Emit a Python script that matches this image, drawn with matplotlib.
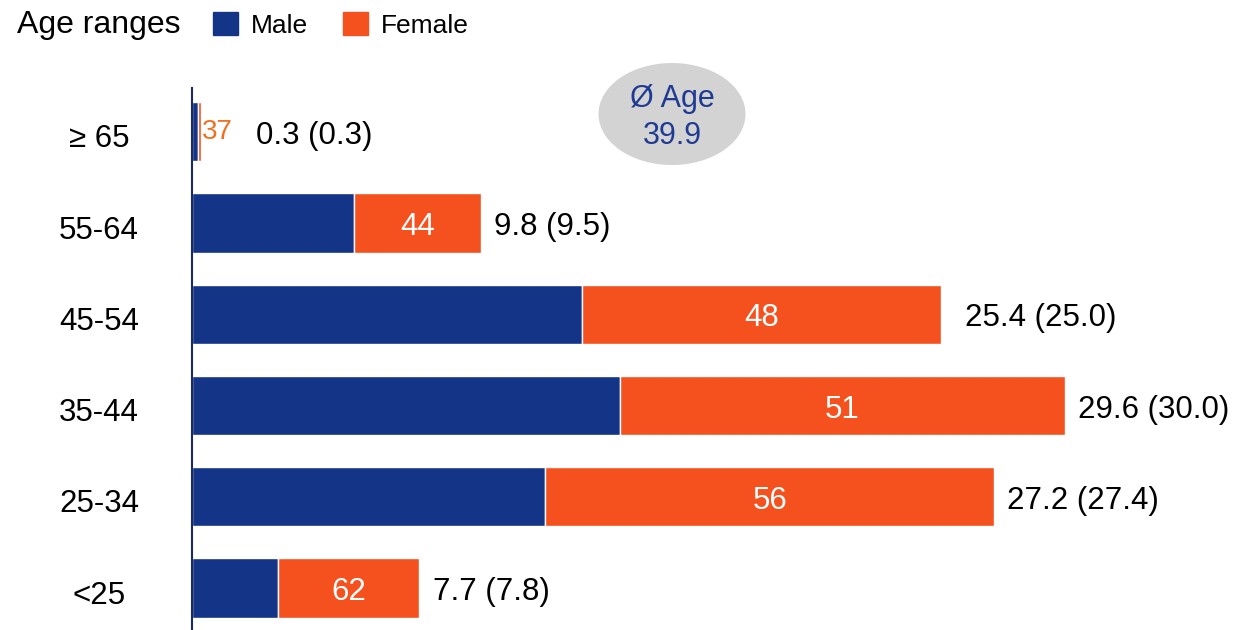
import matplotlib.pyplot as plt
import matplotlib.transforms as mtransforms
from matplotlib.patches import Ellipse

plt.rcParams['font.family'] = ['Liberation Sans', 'DejaVu Sans']

age_groups = ['<25', '25-34', '35-44', '45-54', '55-64', '\u2265 65']
total_share = [7.7, 27.2, 29.6, 25.4, 9.8, 0.3]
prev_share = [7.8, 27.4, 30.0, 25.0, 9.5, 0.3]
female_pct = [62, 56, 51, 48, 44, 37]
avg_age = 39.9

male_col = '#133487'
female_col = '#F4511E'

male_part = [t * (1 - f / 100) for t, f in zip(total_share, female_pct)]
female_part = [t * f / 100 for t, f in zip(total_share, female_pct)]
ypos = list(range(len(age_groups)))
# gap between bar end and total label (points)
label_gap = [10, 9, 9, 17, 9, 9]

fig = plt.figure(figsize=(12.36, 6.3), dpi=100)
ax = fig.add_axes([192 / 1236, 0, 1 - 192 / 1236, 542 / 630])

ax.barh(ypos, male_part, height=0.65, color=male_col, edgecolor='white', linewidth=1)
ax.barh(ypos, female_part, left=male_part, height=0.65, color=female_col,
        edgecolor='white', linewidth=1)

dy = -3  # nudge text slightly below bar centres
for y, m, f, pct, tot, prev, gap in zip(ypos, male_part, female_part, female_pct,
                                        total_share, prev_share, label_gap):
    end = m + f
    if f > 1.5:
        ax.annotate(str(pct), (m + f / 2, y), xytext=(0, dy),
                    textcoords='offset points', ha='center', va='center',
                    color='white', fontsize=22.5)
        ax.annotate(f'{tot:.1f} ({prev:.1f})', (end, y), xytext=(gap, dy),
                    textcoords='offset points', ha='left', va='center',
                    fontsize=22.5, color='black')
    else:
        # segment too thin: put the share next to it, then the totals
        ax.annotate(str(pct), (end, y), xytext=(1, 0),
                    textcoords='offset points', ha='left', va='center',
                    fontsize=20, color='#F07020')
        ax.annotate(f'{tot:.1f} ({prev:.1f})', (end, y), xytext=(40, dy),
                    textcoords='offset points', ha='left', va='center',
                    fontsize=22.5, color='black')

ax.set_xlim(0, (1236 - 192) / 29.5)
ax.set_ylim(-0.46, 5.48)
ax.set_xticks([])
ax.set_yticks(ypos)
ax.set_yticklabels(age_groups, fontsize=22.5)
ax.tick_params(axis='y', length=0, pad=67)
shift = mtransforms.ScaledTranslation(0, dy / 72, fig.dpi_scale_trans)
for lbl in ax.get_yticklabels():
    lbl.set_ha('center')
    lbl.set_transform(lbl.get_transform() + shift)
for side in ['top', 'right', 'bottom']:
    ax.spines[side].set_visible(False)
ax.spines['left'].set_color('#1a2a5a')
ax.spines['left'].set_linewidth(1.5)

# legend row
fig.text(17 / 1236, 1 - 25 / 630, 'Age ranges', fontsize=23, ha='left', va='center')
handles = [plt.Rectangle((0, 0), 1, 1, color=male_col),
           plt.Rectangle((0, 0), 1, 1, color=female_col)]
fig.legend(handles, ['Male', 'Female'], loc='center left',
           bbox_to_anchor=(213 / 1236, 1 - 25 / 630), ncol=2, frameon=False,
           fontsize=19, handlelength=0.95, handleheight=0.95,
           handletextpad=0.5, columnspacing=1.3, borderpad=0, borderaxespad=0)

# average age bubble
fig.patches.append(Ellipse((672 / 1236, 1 - 114 / 630), 147 / 1236, 102 / 630,
                           transform=fig.transFigure, facecolor='#D3D3D3',
                           edgecolor='none'))
fig.text(672 / 1236, 1 - 99 / 630, '\u00d8 Age', ha='center', va='center',
         fontsize=22, color='#1F3A93')
fig.text(672 / 1236, 1 - 136 / 630, f'{avg_age:.1f}', ha='center', va='center',
         fontsize=22, color='#1F3A93')

fig.savefig('out.png', dpi=100)
